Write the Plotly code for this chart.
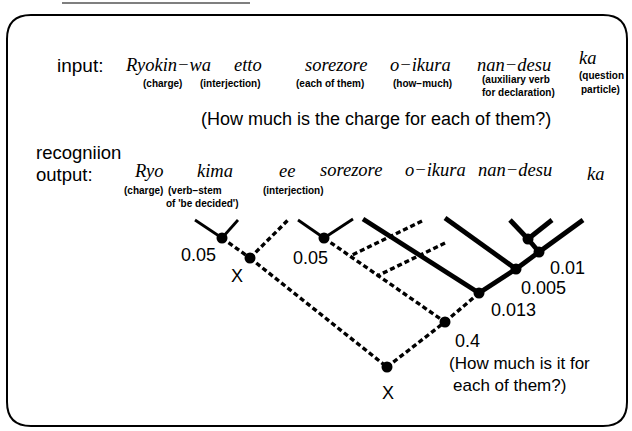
import plotly.graph_objects as go

W, H = 632, 431

# ---- lattice nodes (scores) ----
node_ids = ["A", "X1", "B", "N04", "XB", "N013", "N005", "N001", "NV"]
node_x = [222, 250, 324, 445, 387, 479, 516, 539, 528]
node_y = [238, 258, 238, 322, 367, 293, 269, 252, 239]
node_labels = ["0.05", "X", "0.05", "0.4", "X", "0.013", "0.005", "0.01", ""]
label_x = [198, 237, 310, 467, 388, 513, 543, 567, 0]
label_y = [255, 276, 258, 341, 393, 310, 288, 268, 0]

# ---- free arc tips ----
tip_ids = ["t1", "t2", "t3", "t4", "t5", "t6", "t7", "t8", "t9", "t10", "t11", "t12", "m1", "m2"]
tip_x = [195, 238, 288, 298, 353, 363, 422, 445, 445, 510, 552, 583, 350, 377]
tip_y = [220, 220, 220, 220, 219, 219, 221, 243, 218, 220, 220, 220, 256, 276]

# ---- arcs by style ----
thin_arcs = [("t1", "A"), ("t2", "A"), ("t4", "B"), ("t5", "B")]
thick_arcs = [("t6", "N013"), ("t9", "N005"), ("N013", "N005"), ("N005", "N001"),
              ("N001", "t12"), ("t10", "NV"), ("t11", "NV"), ("NV", "N001")]
dashed_arcs = [("A", "X1"), ("X1", "t3"), ("X1", "XB"), ("B", "N04"), ("t7", "m1"),
               ("t8", "m2"), ("XB", "N04"), ("N04", "N013")]

# ---- texts ----
input_words = ["Ryokin−wa", "etto", "sorezore", "o−ikura", "nan−desu", "ka"]
input_x = [168, 248, 336, 420, 514, 587]
input_y = [65, 65, 65, 65, 65, 58]
input_gloss = ["(charge)", "(interjection)", "(each of them)", "(how−much)",
               "(auxiliary verb", "for declaration)", "(question", "particle)"]
input_gloss_x = [162, 230, 330, 422, 516, 518, 601, 600]
input_gloss_y = [83, 83, 83, 83, 79, 92, 75, 89]

output_words = ["Ryo", "kima", "ee", "sorezore", "o−ikura", "nan−desu", "ka"]
output_x = [148, 215, 287, 351, 435, 515, 595]
output_y = [171, 171, 171, 170, 170, 170, 174]
output_gloss = ["(charge)", "(verb−stem", "of 'be decided')", "(interjection)"]
output_gloss_x = [143, 195, 202, 293]
output_gloss_y = [190, 190, 203, 190]

pts = dict(zip(node_ids, zip(node_x, node_y)))
pts.update(dict(zip(tip_ids, zip(tip_x, tip_y))))

fig = go.Figure()


def add_arcs(arcs, width, dash):
    xs, ys = [], []
    for a, b in arcs:
        xs += [pts[a][0], pts[b][0], None]
        ys += [pts[a][1], pts[b][1], None]
    fig.add_trace(go.Scatter(x=xs, y=ys, mode="lines", hoverinfo="skip",
                             line=dict(color="black", width=width, dash=dash)))


add_arcs(thin_arcs, 2.8, "solid")
add_arcs(thick_arcs, 4.8, "solid")
add_arcs(dashed_arcs, 3.4, "5px,3px")

fig.add_trace(go.Scatter(x=node_x, y=node_y, mode="markers", hoverinfo="skip",
                         marker=dict(color="black", size=11)))

SANS = "Liberation Sans, Arial, sans-serif"
SERIF = "Liberation Serif, Times New Roman, serif"
ann = []


def txt(x, y, s, size, fam=SANS, anchor="center"):
    ann.append(dict(x=x, y=y, text=s, showarrow=False, xanchor=anchor, yanchor="middle",
                    borderpad=0, font=dict(family=fam, size=size, color="black")))


txt(56, 65, "input:", 19, anchor="left")
for w, x, y in zip(input_words, input_x, input_y):
    txt(x, y, "<i>" + w + "</i>", 18.5, SERIF)
for g, x, y in zip(input_gloss, input_gloss_x, input_gloss_y):
    txt(x, y, "<b>" + g + "</b>", 10)
txt(376, 119, "(How much is the charge for each of them?)", 18)

txt(35, 152, "recogniion", 18.5, anchor="left")
txt(35, 174, "output:", 18.5, anchor="left")
for w, x, y in zip(output_words, output_x, output_y):
    txt(x, y, "<i>" + w + "</i>", 18.5, SERIF)
for g, x, y in zip(output_gloss, output_gloss_x, output_gloss_y):
    txt(x, y, "<b>" + g + "</b>", 10)

for lab, x, y in zip(node_labels, label_x, label_y):
    if lab:
        txt(x, y, lab, 18)
txt(448, 363, "(How much is it for", 17, anchor="left")
txt(452, 385, "each of them?)", 17, anchor="left")

# rounded frame
r = 24
L, R, T, B = 7, 627, 15, 426
frame = (f"M {L+r},{T} L {R-r},{T} Q {R},{T} {R},{T+r} L {R},{B-r} Q {R},{B} {R-r},{B} "
         f"L {L+r},{B} Q {L},{B} {L},{B-r} L {L},{T+r} Q {L},{T} {L+r},{T} Z")

fig.update_layout(
    width=W, height=H, margin=dict(l=0, r=0, t=0, b=0),
    paper_bgcolor="white", plot_bgcolor="white", showlegend=False,
    xaxis=dict(range=[0, W], visible=False, fixedrange=True),
    yaxis=dict(range=[H, 0], visible=False, fixedrange=True),
    annotations=ann,
    shapes=[dict(type="path", path=frame, xref="x", yref="y",
                 line=dict(color="black", width=2)),
            dict(type="line", x0=62, x1=250, y0=3, y1=3, xref="x", yref="y",
                 line=dict(color="#555", width=1.5))],
)

fig.write_html("out.html", config={"displayModeBar": False},
               post_script="document.body.style.margin='0';document.body.style.overflow='hidden';")
